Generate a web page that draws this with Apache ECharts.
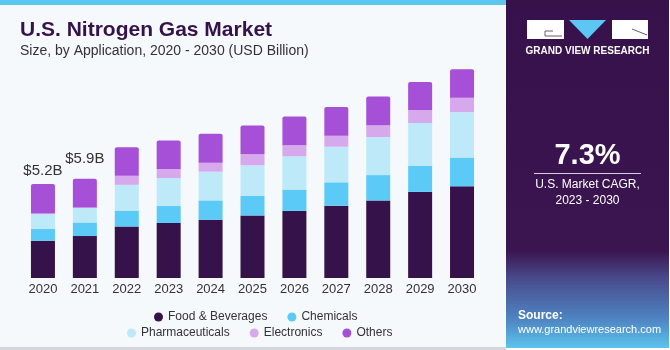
<!DOCTYPE html>
<html>
<head>
<meta charset="utf-8">
<script src="https://cdn.jsdelivr.net/npm/echarts@6/dist/echarts.min.js"></script>
<style>html,body{margin:0;padding:0;background:#fff;}#c{width:670px;height:350px;}</style>
</head>
<body>
<div id="c"></div>
<script>
var years = ['2020','2021','2022','2023','2024','2025','2026','2027','2028','2029','2030'];
var foodBeverages = [2.06, 2.32, 2.85, 3.04, 3.22, 3.46, 3.71, 4.00, 4.29, 4.76, 5.07];
var chemicals     = [0.66, 0.75, 0.88, 0.94, 1.07, 1.09, 1.18, 1.29, 1.40, 1.45, 1.59];
var pharmaceuticals = [0.81, 0.80, 1.42, 1.55, 1.59, 1.68, 1.84, 1.97, 2.10, 2.36, 2.51];
var electronics   = [0.03, 0.03, 0.51, 0.50, 0.50, 0.61, 0.61, 0.61, 0.66, 0.70, 0.80];
var others        = [1.64, 1.59, 1.57, 1.58, 1.60, 1.60, 1.59, 1.59, 1.58, 1.57, 1.58];
var totalLabels = ['$5.2B', '$5.9B'];

var seriesNames = ['Food & Beverages', 'Chemicals', 'Pharmaceuticals', 'Electronics', 'Others'];
var seriesData = [foodBeverages, chemicals, pharmaceuticals, electronics, others];
var colors = ['#36124a', '#5ccaf6', '#bde9f9', '#d6a9ec', '#a64fd7'];
var labelDistances = [6, 12];

var chart = echarts.init(document.getElementById('c'));

var series = seriesNames.map(function (name, i) {
  var data = seriesData[i].map(function (v, j) {
    var item = { value: v };
    if (i === 4 && j < totalLabels.length) {
      item.label = {
        show: true, position: 'top', distance: labelDistances[j],
        formatter: totalLabels[j], fontSize: 15, color: '#333',
        fontFamily: 'Liberation Sans, Arial, sans-serif'
      };
    }
    return item;
  });
  return {
    name: name, type: 'bar', stack: 'total', barWidth: 24,
    data: data,
    itemStyle: {
      color: colors[i],
      borderRadius: i === 4 ? [2, 2, 0, 0] : 0
    },
    emphasis: { disabled: true }
  };
});

var option = {
  animation: false,
  backgroundColor: '#f5f9fc',
  color: colors,
  textStyle: { fontFamily: 'Liberation Sans, Arial, sans-serif' },
  graphic: [
    { type: 'rect', shape: { x: 0, y: 0, width: 506, height: 5 }, style: { fill: '#5cc7ee' }, z: 10 },
    { type: 'rect', shape: { x: 0, y: 347, width: 506, height: 3 }, style: { fill: '#d4d8dc' }, z: 10 },
    { type: 'rect', shape: { x: 505, y: 0, width: 165, height: 350 }, style: { fill: '#ffffff' }, z: 9 },
    { type: 'rect', shape: { x: 506, y: 0, width: 163, height: 348 },
      style: { fill: { type: 'linear', x: 0, y: 0, x2: 0, y2: 1, colorStops: [
        { offset: 0, color: '#36114a' }, { offset: 0.72, color: '#3a1550' },
        { offset: 0.8, color: '#484a8c' }, { offset: 0.92, color: '#4f86c4' }, { offset: 1, color: '#5cc4ee' }] } }, z: 10 },
    // logo
    { type: 'rect', shape: { x: 527, y: 20, width: 37, height: 19 }, style: { fill: '#ffffff' }, z: 11 },
    { type: 'polyline', shape: { points: [[553, 31], [545, 31], [545, 36], [562, 36]] }, style: { stroke: '#6a5a7a', lineWidth: 1, fill: null }, z: 12 },
    { type: 'polygon', shape: { points: [[569, 20], [606, 20], [587.5, 39]] }, style: { fill: '#5cc7f2' }, z: 11 },
    { type: 'rect', shape: { x: 612, y: 20, width: 36, height: 19 }, style: { fill: '#ffffff' }, z: 11 },
    { type: 'line', shape: { x1: 632, y1: 29, x2: 647, y2: 35 }, style: { stroke: '#6a5a7a', lineWidth: 1 }, z: 12 },
    { type: 'text', style: { text: 'GRAND VIEW RESEARCH', x: 587.5, y: 51, align: 'center', verticalAlign: 'middle',
      fill: '#ffffff', font: 'bold 10px "Liberation Sans", Arial, sans-serif' }, z: 11 },
    { type: 'text', style: { text: '7.3%', x: 587.5, y: 156, align: 'center', verticalAlign: 'middle',
      fill: '#ffffff', font: 'bold 29px "Liberation Sans", Arial, sans-serif' }, z: 11 },
    { type: 'line', shape: { x1: 534, y1: 173.5, x2: 641, y2: 173.5 }, style: { stroke: '#d8d0e0', lineWidth: 1 }, z: 11 },
    { type: 'text', style: { text: 'U.S. Market CAGR,', x: 587.5, y: 185, align: 'center', verticalAlign: 'middle',
      fill: '#ffffff', font: '12px "Liberation Sans", Arial, sans-serif' }, z: 11 },
    { type: 'text', style: { text: '2023 - 2030', x: 587.5, y: 201, align: 'center', verticalAlign: 'middle',
      fill: '#ffffff', font: '12px "Liberation Sans", Arial, sans-serif' }, z: 11 },
    { type: 'text', style: { text: 'Source:', x: 518, y: 316, align: 'left', verticalAlign: 'middle',
      fill: '#ffffff', font: 'bold 12px "Liberation Sans", Arial, sans-serif' }, z: 11 },
    { type: 'text', style: { text: 'www.grandviewresearch.com', x: 518, y: 329.5, align: 'left', verticalAlign: 'middle',
      fill: '#ffffff', font: '11px "Liberation Sans", Arial, sans-serif' }, z: 11 }
  ],
  title: {
    text: 'U.S. Nitrogen Gas Market',
    subtext: 'Size, by Application, 2020 - 2030 (USD Billion)',
    left: 15, top: 15, itemGap: 3,
    textStyle: { fontSize: 21, fontWeight: 'bold', color: '#36124a', fontFamily: 'Liberation Sans, Arial, sans-serif' },
    subtextStyle: { fontSize: 14, color: '#333333', fontFamily: 'Liberation Sans, Arial, sans-serif' }
  },
  legend: [
    {
      data: ['Food & Beverages', 'Chemicals'], left: 149, top: 306,
      icon: 'circle', itemWidth: 9, itemHeight: 9, itemGap: 20,
      textStyle: { fontSize: 12, color: '#333' }, selectedMode: false
    },
    {
      data: ['Pharmaceuticals', 'Electronics', 'Others'], left: 122, top: 322,
      icon: 'circle', itemWidth: 9, itemHeight: 9, itemGap: 20,
      textStyle: { fontSize: 12, color: '#333' }, selectedMode: false
    }
  ],
  grid: { left: 22, right: 187, top: 61, bottom: 72 },
  xAxis: {
    type: 'category', data: years,
    axisLine: { show: false }, axisTick: { show: false },
    axisLabel: { fontSize: 13, color: '#333', margin: 5 }
  },
  yAxis: {
    type: 'value', min: 0, max: 12, show: false, splitLine: { show: false }
  },
  series: series
};
chart.setOption(option);
</script>
</body>
</html>
